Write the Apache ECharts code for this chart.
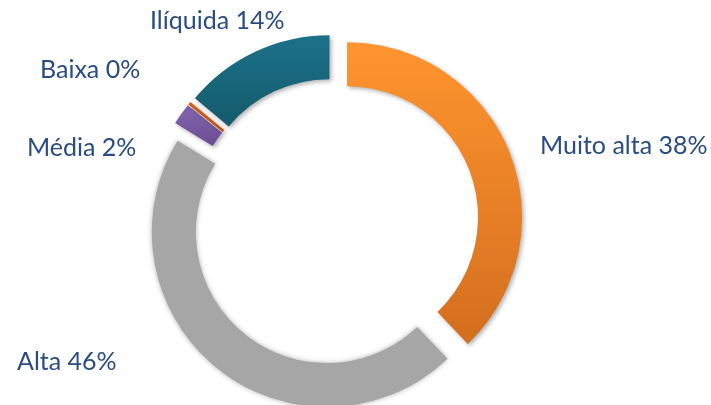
<!DOCTYPE html>
<html>
<head>
<meta charset="utf-8">
<style>html,body{margin:0;padding:0;background:#fff}#c{width:711px;height:405px}</style>
<script src="https://cdn.jsdelivr.net/npm/echarts@6/dist/echarts.min.js"></script>
</head>
<body>
<div id="c"></div>
<script>
const categories = ['Muito alta', 'Alta', 'Média', 'Baixa', 'Ilíquida'];
const values = [38, 46, 2, 0.3, 14];

const colorsTop = ['#FF952F', '#A6A6A6', '#8466AE', '#D2601A', '#1B7189'];
const colorsBottom = ['#D36E1E', '#A6A6A6', '#6A4D92', '#B8500F', '#145B6B'];
const labelX = [540, 17, 27, 40, 150];
const labelY = [146, 362, 148, 70, 21];

function grad(i) {
  return {type: 'linear', x: 0, y: 0, x2: 0, y2: 1,
    colorStops: [{offset: 0, color: colorsTop[i]}, {offset: 1, color: colorsBottom[i]}]};
}

const total = values.reduce((a, b) => a + b, 0);

const data = categories.map((name, i) => ({
  name: name,
  value: values[i],
  selected: true,
  itemStyle: i === 1 ? {
    color: colorsTop[i], shadowColor: 'rgba(166,166,166,0.9)', shadowBlur: 5
  } : {
    color: grad(i), shadowColor: 'rgba(0,0,0,0.3)', shadowBlur: 4, shadowOffsetX: 2, shadowOffsetY: 2
  }
}));

const labels = categories.map((name, i) => ({
  type: 'text',
  x: labelX[i],
  y: labelY[i],
  style: {
    text: name + ' ' + Math.round(values[i] / total * 100) + '%',
    font: '25px Lato',
    fill: '#2A4C80',
    textAlign: 'left',
    textVerticalAlign: 'middle'
  }
}));

const chart = echarts.init(document.getElementById('c'), null, {renderer: 'canvas'});
chart.setOption({
  animation: false,
  graphic: labels,
  series: [{
    type: 'pie',
    center: [335, 222],
    radius: [131, 175],
    startAngle: 90,
    clockwise: true,
    selectedMode: 'multiple',
    selectedOffset: 13,
    data: data,
    select: {itemStyle: {borderWidth: 0}},
    label: {show: false},
    labelLine: {show: false}
  }]
});
</script>
</body>
</html>
